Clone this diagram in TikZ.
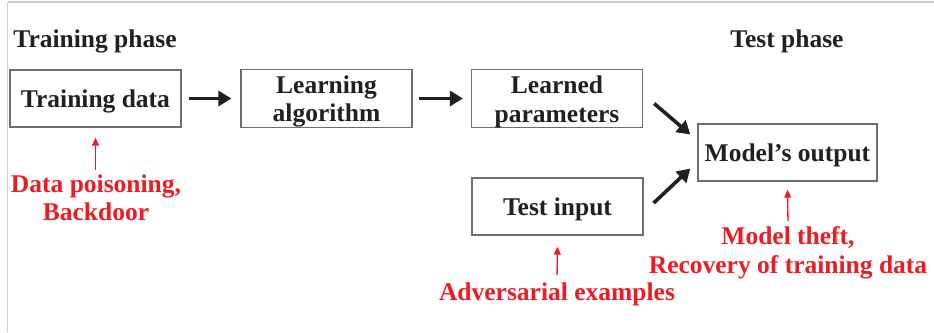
\documentclass[tikz,border=0pt]{standalone}
\usepackage{fontspec}
\setmainfont{Liberation Serif}
\usetikzlibrary{arrows.meta}
\definecolor{txtblack}{RGB}{35,31,32}
\definecolor{atkred}{RGB}{237,28,36}
\definecolor{boxgray}{RGB}{110,110,110}
\definecolor{framegray}{RGB}{205,205,205}
\newcommand{\toppad}{\rule{0pt}{24pt}}
\tikzset{
  bigfont/.style={font=\fontsize{25.5}{28.5}\selectfont\bfseries},
  stagebox/.style={draw=boxgray, line width=1.3pt, minimum width=171pt, minimum height=57pt,
    inner sep=0pt, align=center, bigfont, text=txtblack},
  phaselabel/.style={bigfont, text=txtblack, anchor=base, inner sep=0pt},
  attacklabel/.style={bigfont, text=atkred, align=center, inner sep=0pt},
  bigarrow/.style={draw=txtblack, line width=3.6pt, -{Triangle[length=13pt,width=15pt]}},
  redarrow/.style={draw=atkred, line width=1.3pt, -{Triangle[length=8pt,width=7pt]}},
}
\begin{document}
\begin{tikzpicture}[x=1pt,y=-1pt]
\useasboundingbox (0,0) rectangle (934,332);
% faint frame edges
\draw[framegray, line width=1.5pt] (7.5,2) -- (934,2);
\draw[framegray, line width=1.5pt] (7.5,2) -- (7.5,332);

\node[phaselabel] (trainphase) at (95,47) {Training phase};
\node[phaselabel] (testphase) at (787,47) {Test phase};

\node[stagebox] (td) at (95.5,98.5) {\toppad Training data};
\node[stagebox] (la) at (326.5,98.5) {\toppad Learning\\algorithm};
\node[stagebox] (lp) at (557,98.5) {\toppad Learned\\parameters};
\node[stagebox] (ti) at (557.5,206.5) {\toppad Test input};
\node[stagebox, minimum width=179pt] (mo) at (787.5,152.5) {\toppad Model's output};

\draw[bigarrow, shorten <=7pt, shorten >=9pt] (td) -- (la);
\draw[bigarrow, shorten <=6pt, shorten >=8pt] (la) -- (lp);
\draw[bigarrow] ([xshift=11pt,yshift=-5pt]lp.east) -- ([xshift=-7pt,yshift=18pt]mo.west);
\draw[bigarrow] ([xshift=10pt,yshift=3.5pt]ti.east) -- ([xshift=-7pt,yshift=-16pt]mo.west);

\node[attacklabel] (dp) at (96,198) {Data poisoning,\\Backdoor};
\node[attacklabel] (ae) at (557,294) {Adversarial examples};
\node[attacklabel] (mt) at (788,253) {Model theft,\\Recovery of training data};

\draw[redarrow, shorten <=5pt, shorten >=10pt] (dp.north -| td.south) -- (td.south);
\draw[redarrow, shorten <=7pt, shorten >=11pt] (ae.north) -- (ti.south);
\draw[redarrow, shorten <=6pt, shorten >=8pt] (mt.north) -- (mo.south);
\end{tikzpicture}
\end{document}
